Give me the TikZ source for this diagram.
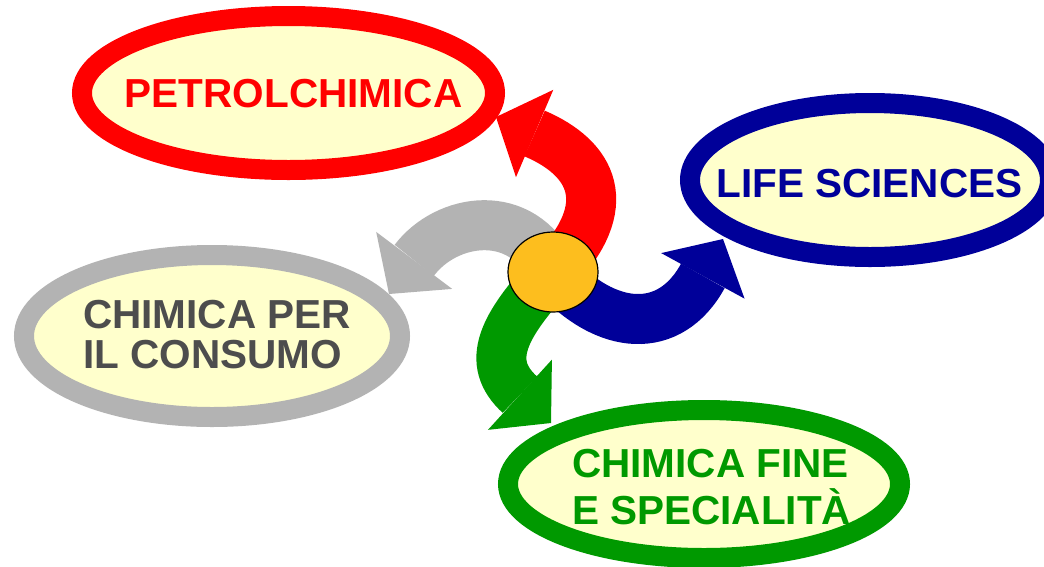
\documentclass[tikz,border=0pt]{standalone}
\usepackage{fontspec}
\setmainfont{Liberation Sans}
\usetikzlibrary{arrows.meta,shapes.geometric}
\definecolor{cRed}{HTML}{FF0000}
\definecolor{cBlue}{HTML}{000099}
\definecolor{cGreen}{HTML}{009900}
\definecolor{cGray}{HTML}{B3B3B3}
\definecolor{cText}{HTML}{4D4D4D}
\definecolor{cFill}{HTML}{FFFFCC}
\definecolor{cHub}{HTML}{FDBE1E}
\begin{document}
\begin{tikzpicture}[x=1pt,y=-1pt,
  oval/.style={ellipse, draw, line width=20pt, fill=cFill, inner sep=0pt},
  lbl/.style={font=\fontsize{40.5}{48}\selectfont\bfseries, inner sep=0pt},
  fat/.style={line width=50pt, -{Triangle[width=95pt,length=42pt,line width=0pt]}},
  hub/.style={ellipse, draw=black, line width=1.2pt, fill=cHub, minimum width=90pt, minimum height=80pt, inner sep=0pt}]
\useasboundingbox (0,0) rectangle (1044,566);
\fill[white] (0,0) rectangle (1044,566);

\node[oval, draw=cRed, minimum width=413pt, minimum height=154pt] (petro) at (288.5,93) {};
\node[oval, draw=cBlue, minimum width=360pt, minimum height=154pt] (life) at (870,180) {};
\node[oval, draw=cGray, minimum width=376pt, minimum height=162pt] (cons) at (212,336) {};
\node[oval, draw=cGreen, minimum width=392pt, minimum height=148pt] (fine) at (704,484) {};

\node[lbl, text=cRed, anchor=base] (tpetro) at (293.5,107) {PETROLCHIMICA};
\node[lbl, text=cBlue, anchor=base] (tlife) at (869.5,197) {LIFE SCIENCES};
\node[lbl, text=cText, anchor=base west] (tcons1) at (83,328) {CHIMICA PER};
\node[lbl, text=cText, anchor=base west] (tcons2) at (83,368) {IL CONSUMO};
\node[lbl, text=cGreen, anchor=base west] (tfine1) at (572,477) {CHIMICA FINE};
\node[lbl, text=cGreen, anchor=base west] (tfine2) at (572,524) {E SPECIALITÀ};

\coordinate (c) at (553,272);
\coordinate (redtip) at (496,117);
\coordinate (bluetip) at (723,239);
\coordinate (greentip) at (551,423);
\coordinate (graytip) at (389,294);

\draw[fat, cGray] (c) .. controls (522,205) and (446,218) .. (graytip);
\draw[fat, cGreen] (c) .. controls (503,326) and (484,362) .. (greentip);
\draw[fat, cBlue] (c) .. controls (606,332) and (670,336) .. (bluetip);
\draw[fat, cRed] (c) .. controls (618,205) and (592,158) .. (redtip);
\node[hub] (hub) at (c) {};
\end{tikzpicture}
\end{document}
